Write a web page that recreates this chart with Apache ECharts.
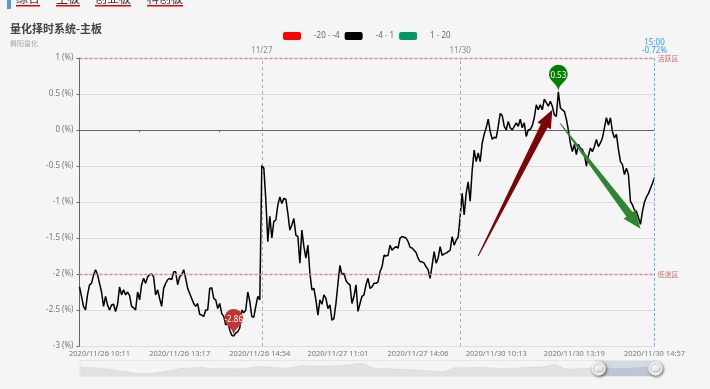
<!DOCTYPE html>
<html><head><meta charset="utf-8">
<style>html,body{margin:0;padding:0;background:#f5f5f5}#c{width:710px;height:389px}</style>
<script src="https://cdn.jsdelivr.net/npm/echarts@6/dist/echarts.min.js"></script>
</head><body><div id="c"></div>
<script>
const values = [
-2.18,-2.31,-2.45,-2.50,-2.29,-2.15,-2.13,-2.02,-1.94,-2.01,-2.13,-2.25,-2.45,-2.31,-2.43,-2.50,-2.43,-2.42,-2.52,-2.42,
-2.18,-2.29,-2.22,-2.29,-2.25,-2.30,-2.45,-2.47,-2.50,-2.25,-2.36,-2.15,-2.06,-2.13,-2.04,-2.01,-2.00,-2.04,-2.29,-2.22,
-2.34,-2.45,-2.20,-2.13,-2.08,-2.06,-2.08,-1.97,-1.97,-2.15,-2.04,-2.01,-1.94,-2.06,-2.20,-2.27,-2.34,-2.41,-2.45,-2.41,
-2.56,-2.57,-2.59,-2.50,-2.50,-2.20,-2.19,-2.34,-2.36,-2.48,-2.41,-2.55,-2.59,-2.71,-2.66,-2.78,-2.85,-2.86,-2.82,-2.80,
-2.75,-2.50,-2.54,-2.50,-2.25,-2.38,-2.59,-2.60,-2.45,-2.31,-2.36,-0.49,-0.53,-0.97,-1.55,-1.20,-1.50,-1.27,-1.25,-1.04,
-0.93,-1.02,-0.95,-0.96,-1.16,-1.39,-1.32,-1.23,-1.46,-1.48,-1.85,-1.39,-1.62,-1.78,-1.60,-1.99,-2.22,-2.20,-2.36,-2.57,
-2.36,-2.42,-2.29,-2.34,-2.48,-2.43,-2.64,-2.62,-2.41,-2.13,-1.88,-2.01,-1.99,-2.09,-2.13,-2.15,-2.41,-2.31,-2.15,-2.52,
-2.41,-2.31,-2.29,-2.15,-2.06,-2.20,-2.18,-2.13,-2.13,-2.11,-1.97,-1.90,-1.74,-1.75,-1.74,-1.60,-1.67,-1.64,-1.62,-1.64,
-1.50,-1.48,-1.49,-1.50,-1.55,-1.63,-1.64,-1.67,-1.70,-1.78,-1.83,-1.83,-1.85,-1.90,-1.94,-2.06,-1.88,-1.69,-1.85,-1.78,
-1.62,-1.74,-1.72,-1.71,-1.69,-1.67,-1.48,-1.60,-1.53,-1.49,-1.20,-0.88,-1.18,-0.88,-0.72,-0.99,-0.56,-0.28,-0.44,-0.32,
-0.44,-0.18,-0.06,0.03,0.15,-0.02,-0.13,-0.10,-0.11,0.05,0.23,0.20,0.05,0.00,0.12,0.03,0.00,0.05,0.10,0.05,
0.15,0.03,0.10,-0.09,0.00,0.01,0.06,0.17,0.35,0.28,0.35,0.28,0.43,0.38,0.33,0.40,0.33,0.21,0.19,0.53,
0.31,0.28,0.26,0.15,0.00,-0.18,-0.30,-0.20,-0.34,-0.20,-0.25,-0.27,-0.34,-0.50,-0.36,-0.25,-0.30,-0.23,-0.13,-0.23,
-0.18,-0.11,0.03,0.17,0.07,0.17,-0.02,-0.11,-0.06,-0.27,-0.44,-0.48,-0.62,-0.53,-0.62,-0.99,-1.04,-1.11,-1.13,-1.22,
-1.31,-1.13,-1.00,-0.93,-0.88,-0.81,-0.74,-0.66];
const tickIndexes = [10,50,90,129,169,208,247,287];
const tickLabels = ['2020/11/26 10:11','2020/11/26 13:17','2020/11/26 14:54','2020/11/27 11:01','2020/11/27 14:06','2020/11/30 10:13','2020/11/30 13:19','2020/11/30 14:57'];
const zeroTicks = [30,70];
const dayBreaks = [[91,'11/27'],[190,'11/30']];
const closeIndex = 287;
const closeLabel = '15:00\n-0.72%';
const tabs = ['综合','主板','创业板','科创板'];
const overview = [11.3,11,10.3,9.5,8,7,5.7,6,7,8.5,10,10.5,11,10,10,9.8,9.7,11,12,11,10.3,11,12.5,12,12,12.3,12.8,13.5,14.5,10.5,10,9.6,9.3,9,8.5,8,7.3,10.8,10.6,11,11,10.3,9.7,10.3,11,11.3,11.5,13.6,9.7,9.7,10,11,10.6,9.7,10,10.7,11.2,12];
const arrows = [
  {tail:[199,-1.75],tip:[236,0.28],color:'#7b0505'},
  {tail:[239.5,0.09],tip:[279.7,-1.37],color:'#2f8531'}
];
const categories = values.map((_,i)=>{const p=tickIndexes.indexOf(i);return p>=0?tickLabels[p]:String(i);});
const font='"Noto Sans","Noto Sans CJK SC",sans-serif';
const tabX=[16,56,95,147],tabW=[24,24,36,36];
const graphic=[{type:'rect',shape:{x:7,y:0,width:4,height:9},style:{fill:'#5b9bd5'}}];
tabs.forEach((t,i)=>{
  graphic.push({type:'text',x:tabX[i],y:-8,style:{text:t,fill:'#333',font:'12px "Noto Sans CJK SC"'}});
  graphic.push({type:'rect',shape:{x:tabX[i],y:5,width:tabW[i],height:1.5},style:{fill:'#f00000'}});
});
graphic.push({type:'text',x:10,y:23,style:{text:'量化择时系统-主板',fill:'#444',font:'bold 11px "Noto Sans CJK SC"'}});
graphic.push({type:'text',x:10,y:40,style:{text:'舞阳量化',fill:'#aaa',font:'7px "Noto Sans CJK SC"'}});
const vLines=dayBreaks.map(d=>({xAxis:d[0],label:{formatter:d[1],color:'#888',fontSize:8,fontFamily:font,distance:3},lineStyle:{color:'#aaa',type:[3,3],width:1}}));
vLines.push({xAxis:closeIndex,label:{formatter:closeLabel,color:'#3399ff',fontSize:8,lineHeight:8,fontFamily:font,distance:3},lineStyle:{color:'#66aaff',type:[3,2],width:1}});
const hLine=(v,t)=>({yAxis:v,label:{formatter:t,position:'end',color:'#d46a6a',fontSize:7,fontFamily:'"Noto Sans CJK SC"',distance:3},lineStyle:{color:'#dd8f8f',type:[3,2],width:1.3}});
const pin=(i,c)=>({coord:[i,values[i]],value:values[i].toFixed(2),itemStyle:{color:c}});
const chart=echarts.init(document.getElementById('c'),null,{renderer:'canvas'});
chart.setOption({
  animation:false,backgroundColor:'#f5f5f5',textStyle:{fontFamily:font},graphic,
  grid:[{left:79.5,top:58,width:575,height:288},{left:80,top:360,width:577,height:17,show:false}],
  visualMap:{type:'piecewise',orient:'horizontal',seriesIndex:0,left:268,top:17,itemWidth:18,itemHeight:8,itemGap:5,textGap:13,itemSymbol:'roundRect',
    textStyle:{color:'#666',fontSize:8,fontFamily:font},
    pieces:[{min:-20,max:-4,color:'#ff0000'},{min:-4,max:1,color:'#000000'},{min:1,max:20,color:'#009966'}]},
  xAxis:[
    {type:'category',gridIndex:0,data:categories,boundaryGap:false,position:'bottom',
     axisLine:{onZero:false,lineStyle:{color:'#ddd'}},axisTick:{show:false},splitLine:{show:false},
     axisLabel:{color:'#777',fontSize:7.5,margin:4,hideOverlap:false,interval:(i)=>tickIndexes.includes(i),formatter:v=>v}},
    {type:'category',gridIndex:0,data:categories,boundaryGap:false,position:'bottom',
     axisLine:{onZero:true,onZeroAxisIndex:0,lineStyle:{color:'#666'}},axisLabel:{show:false},splitLine:{show:false},
     axisTick:{length:2,inside:false,lineStyle:{color:'#666'},interval:(i)=>zeroTicks.includes(i)}},
    {type:'category',gridIndex:1,show:false,boundaryGap:false,data:overview.map((_,i)=>String(i))}
  ],
  yAxis:[
    {type:'value',gridIndex:0,min:-3,max:1,interval:0.5,
     axisLine:{show:true,lineStyle:{color:'#666'}},axisTick:{show:true,length:3,lineStyle:{color:'#666'}},
     axisLabel:{color:'#777',fontSize:8,margin:6,formatter:'{value} (%)'},splitLine:{lineStyle:{color:'#ddd'}}},
    {type:'value',gridIndex:1,show:false,splitLine:{show:false}}
  ],
  dataZoom:[{type:'slider',xAxisIndex:2,filterMode:'none',left:77,width:577,top:360,height:17,start:89.8,end:100,
    showDetail:false,brushSelect:false,moveHandleSize:0,borderColor:'#e6e6e6',backgroundColor:'rgba(0,0,0,0)',
    fillerColor:'rgba(135,155,190,0.3)',
    dataBackground:{lineStyle:{color:'#d0d0d0',width:0.5},areaStyle:{color:'#d6d6d6',opacity:0.6}},
    selectedDataBackground:{lineStyle:{color:'#c0c4cc',width:0.5},areaStyle:{color:'#b8bcc4',opacity:0.5}},
    handleIcon:'path://M512 0a512 512 0 1 0 0 1024a512 512 0 1 0 0-1024z M280 390v90h464v-90z M280 550v90h464v-90z',
    handleSize:'78%',handleStyle:{color:'#fff',borderColor:'#fff',shadowBlur:3,shadowColor:'rgba(0,0,0,0.55)',shadowOffsetX:1,shadowOffsetY:1}}],
  series:[
    {type:'line',name:'timing',xAxisIndex:0,yAxisIndex:0,data:values,showSymbol:false,symbol:'none',smooth:false,silent:true,
     lineStyle:{width:1.5,color:'#000'},z:3,
     markLine:{silent:true,symbol:'none',data:[hLine(1,'活跃区'),hLine(-2,'低迷区')].concat(vLines)},
     markPoint:{symbol:'pin',symbolSize:31,silent:true,z:6,label:{color:'#fff',fontSize:8,fontFamily:font},
       data:[pin(239,'#008000'),pin(77,'#c23531')]}},
    {type:'custom',name:'arrows',xAxisIndex:0,yAxisIndex:0,silent:true,z:5,clip:false,
     data:arrows.map(a=>a.tail),
     renderItem:(params,api)=>{
       const a=arrows[params.dataIndex],p0=api.coord(a.tail),p1=api.coord(a.tip);
       const dx=p1[0]-p0[0],dy=p1[1]-p0[1],L=Math.hypot(dx,dy),ux=dx/L,uy=dy/L,nx=-uy,ny=ux;
       const hl=18,hw=7.5,sw=3.8,tw=0.5;
       const bx=p1[0]-ux*hl,by=p1[1]-uy*hl;
       return {type:'polygon',shape:{points:[[p0[0]+nx*tw,p0[1]+ny*tw],[bx+nx*sw,by+ny*sw],[bx+nx*hw,by+ny*hw],p1,[bx-nx*hw,by-ny*hw],[bx-nx*sw,by-ny*sw],[p0[0]-nx*tw,p0[1]-ny*tw]]},style:{fill:a.color}};
     }},
    {type:'line',name:'overview',xAxisIndex:2,yAxisIndex:1,data:overview,showSymbol:false,symbol:'none',silent:true,lineStyle:{opacity:0}}
  ]
});
</script></body></html>
